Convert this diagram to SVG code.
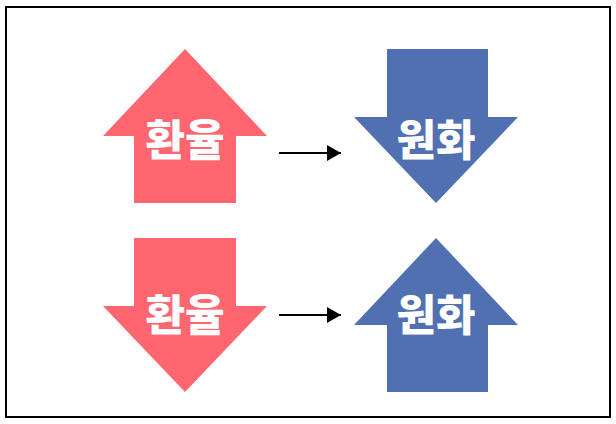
<svg xmlns="http://www.w3.org/2000/svg" width="616" height="424" viewBox="0 0 616 424">
<defs>
<style>
.red{fill:#FF6670}
.blue{fill:#5170B1}
.lbl{font-family:"Noto Sans CJK KR","Noto Sans",sans-serif;font-weight:900;font-size:43px;fill:#fff;text-anchor:middle;dominant-baseline:central}
.conn{stroke:#000;stroke-width:2;fill:none}
</style>
<marker id="ah" viewBox="0 0 14 16" refX="14" refY="8" markerWidth="14" markerHeight="16" markerUnits="userSpaceOnUse" orient="auto">
<path d="M0,0 L14,8 L0,16 Z" fill="#000"/>
</marker>
</defs>
<rect x="0" y="0" width="616" height="424" fill="#fff"/>
<rect x="6" y="7" width="604" height="410" fill="none" stroke="#000" stroke-width="2"/>
<g id="rate-up">
<polygon class="red" points="185,49 267,136 236,136 236,203 134,203 134,136 103,136"/>
<text class="lbl" x="185" y="137">환율</text>
</g>
<g id="won-down">
<polygon class="blue" points="387,49 488,49 488,117 518,117 436,203 354,117 387,117"/>
<text class="lbl" x="436" y="137">원화</text>
</g>
<g id="rate-down">
<polygon class="red" points="134,238 236,238 236,306 267,306 185,392 103,306 134,306"/>
<text class="lbl" x="185" y="312">환율</text>
</g>
<g id="won-up">
<polygon class="blue" points="436,238 518,325 488,325 488,392 387,392 387,325 354,325"/>
<text class="lbl" x="436" y="312">원화</text>
</g>
<g id="connectors">
<line class="conn" x1="279" y1="153" x2="341" y2="153" marker-end="url(#ah)"/>
<line class="conn" x1="279" y1="315" x2="341" y2="315" marker-end="url(#ah)"/>
</g>
</svg>
